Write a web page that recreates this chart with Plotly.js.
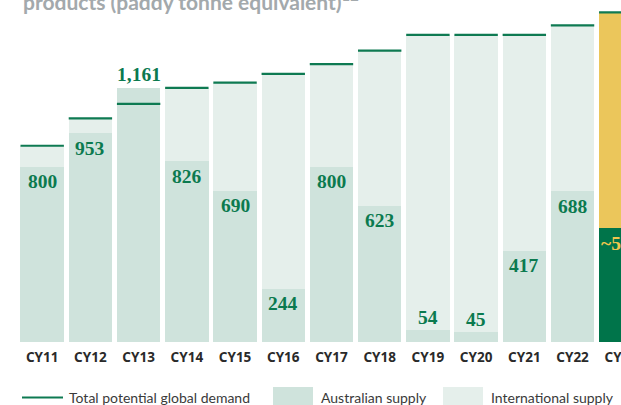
<!DOCTYPE html>
<html>
<head>
<meta charset="utf-8">
<script src="https://cdn.plot.ly/plotly-3.0.1.min.js"></script>
<style>html,body{margin:0;padding:0;background:#fff;}#chart{width:621px;height:405px;}</style>
</head>
<body>
<div id="chart"></div>
<script>
// ---- data (thousand paddy tonnes) ----
var categories = ['CY11','CY12','CY13','CY14','CY15','CY16','CY17','CY18','CY19','CY20','CY21','CY22','CY23'];
var australianSupply = [800, 953, 1161, 826, 690, 244, 800, 623, 54, 45, 417, 688, 520];
var internationalSupply = [96, 68, 0, 334, 494, 980, 469, 707, 1348, 1357, 985, 758, 985];
var globalDemand = [896, 1021, 1087, 1160, 1184, 1224, 1269, 1330, 1402, 1402, 1402, 1446, 1505];
var valueLabels = ['800','953','1,161','826','690','244','800','623','54','45','417','688','~500'];
var labelOutside = [false, false, true, false, false, false, false, false, true, true, false, false, false];

// ---- styling ----
var W = 621, H = 405, plotBottom = 342;
var cAus = '#cfe3dc', cIntl = '#e5efeb', cLine = '#0e7a52', cLabel = '#0b7a4f';
var cAusF = '#00744a', cIntlF = '#ebc65b', cLabelF = '#f0c64e';
var lastIdx = categories.length - 1;

var ausColors = categories.map(function(c, i){ return i === lastIdx ? cAusF : cAus; });
var intlColors = categories.map(function(c, i){ return i === lastIdx ? cIntlF : cIntl; });

var traces = [
  {type:'bar', x:categories, y:australianSupply, name:'Australian supply',
   marker:{color:ausColors, line:{width:0}}, hoverinfo:'x+y', showlegend:false},
  {type:'bar', x:categories, y:internationalSupply, name:'International supply',
   marker:{color:intlColors, line:{width:0}}, hoverinfo:'x+y', showlegend:false},
  {type:'scatter', mode:'markers', x:categories, y:globalDemand, name:'Total potential global demand',
   marker:{symbol:'line-ew', size:31, color:cLine, line:{color:cLine, width:2.2}},
   hoverinfo:'x+y', showlegend:false}
];

function px(p){ return p / W; }
function py(p){ return (plotBottom - p) / plotBottom; }

var annotations = categories.map(function(c, i){
  return {x:c, y:australianSupply[i], xref:'x', yref:'y', text:valueLabels[i], showarrow:false,
    yshift: labelOutside[i] ? 13 : -15,
    font:{family:'Liberation Serif, serif', size:19.5, color: i === lastIdx ? cLabelF : cLabel, weight:700}};
});

// title fragment (cut at top in the reference)
annotations.push({xref:'paper', yref:'paper', x:px(21), y:py(0), xanchor:'left', yanchor:'middle',
  text:'products (paddy tonne equivalent)<sup>12</sup>', showarrow:false,
  font:{family:'Lato, sans-serif', size:21, color:'#a3a9ac', weight:700}});

// legend texts
var legendY = py(397.5);
annotations.push({xref:'paper', yref:'paper', x:px(67), y:legendY, xanchor:'left', yanchor:'middle',
  text:'Total potential global demand', showarrow:false, font:{family:'Lato, sans-serif', size:14, color:'#3a3a3a'}});
annotations.push({xref:'paper', yref:'paper', x:px(319), y:legendY, xanchor:'left', yanchor:'middle',
  text:'Australian supply', showarrow:false, font:{family:'Lato, sans-serif', size:14, color:'#3a3a3a'}});
annotations.push({xref:'paper', yref:'paper', x:px(489), y:legendY, xanchor:'left', yanchor:'middle',
  text:'International supply', showarrow:false, font:{family:'Lato, sans-serif', size:14, color:'#3a3a3a'}});

var shapes = [
  {type:'line', xref:'paper', yref:'paper', x0:px(22), x1:px(63), y0:legendY, y1:legendY, line:{color:cLine, width:2}},
  {type:'rect', xref:'paper', yref:'paper', x0:px(273), x1:px(313), y0:py(387), y1:py(408), fillcolor:cAus, line:{width:0}},
  {type:'rect', xref:'paper', yref:'paper', x0:px(443), x1:px(483), y0:py(387), y1:py(408), fillcolor:cIntl, line:{width:0}}
];

var layout = {
  width:W, height:H,
  margin:{l:0, r:0, t:0, b:H - plotBottom, pad:0},
  paper_bgcolor:'#ffffff', plot_bgcolor:'#ffffff',
  barmode:'stack', bargap:0.1,
  xaxis:{type:'category', range:[-0.875, 12.005], showgrid:false, zeroline:false, showline:false,
    ticks:'', ticklabelstandoff:5, fixedrange:true,
    tickfont:{family:'Noto Sans, sans-serif', size:13.5, color:'#2a2a2a', weight:700}},
  yaxis:{range:[0, 1561.6], visible:false, showgrid:false, zeroline:false, fixedrange:true},
  showlegend:false,
  annotations:annotations,
  shapes:shapes
};

Plotly.newPlot('chart', traces, layout, {displayModeBar:false, staticPlot:true});
</script>
</body>
</html>
